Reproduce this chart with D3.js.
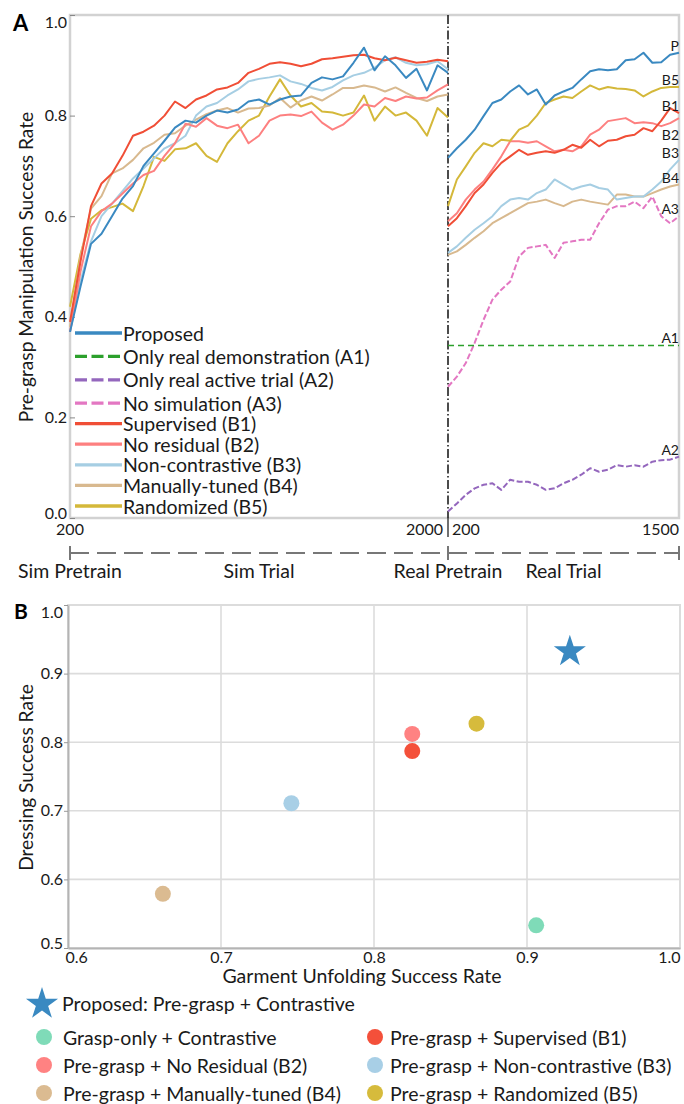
<!DOCTYPE html>
<html><head><meta charset="utf-8">
<script src="https://cdn.jsdelivr.net/npm/d3@7"></script>
<style>body{margin:0;background:#fff;} svg{display:block;font-family:Lato, "Open Sans", sans-serif;}</style>
</head><body><svg id="c" width="684" height="1104"></svg>
<script>
// ---------------- DATA ----------------
const simSteps = [200,250,300,350,400,450,500,550,600,650,700,750,800,850,900,950,1000,1050,1100,1150,1200,1250,1300,1350,1400,1450,1500,1550,1600,1650,1700,1750,1800,1850,1900,1950,2000];
const realSteps = [200,250,300,350,400,450,500,550,600,650,700,750,800,850,900,950,1000,1050,1100,1150,1200,1250,1300,1350,1400,1450,1500];

const simProposed = [0.37,0.46,0.545,0.565,0.60,0.635,0.66,0.70,0.725,0.75,0.776,0.79,0.786,0.80,0.81,0.806,0.812,0.828,0.832,0.822,0.832,0.838,0.84,0.865,0.876,0.872,0.878,0.905,0.935,0.89,0.918,0.90,0.875,0.893,0.85,0.90,0.885];
const simB1 = [0.39,0.51,0.62,0.665,0.685,0.72,0.76,0.768,0.78,0.80,0.828,0.815,0.832,0.84,0.852,0.856,0.865,0.885,0.893,0.903,0.906,0.903,0.898,0.903,0.912,0.914,0.917,0.92,0.921,0.914,0.91,0.915,0.91,0.905,0.907,0.911,0.908];
const simB2 = [0.37,0.49,0.58,0.61,0.625,0.645,0.665,0.682,0.69,0.72,0.745,0.784,0.778,0.795,0.78,0.775,0.782,0.745,0.76,0.79,0.80,0.802,0.799,0.808,0.786,0.772,0.782,0.80,0.822,0.818,0.835,0.829,0.838,0.834,0.836,0.85,0.862];
const simB3 = [0.37,0.47,0.55,0.60,0.625,0.65,0.675,0.695,0.715,0.735,0.745,0.76,0.80,0.818,0.825,0.84,0.852,0.868,0.873,0.876,0.88,0.868,0.863,0.855,0.85,0.857,0.87,0.88,0.885,0.895,0.91,0.916,0.905,0.90,0.902,0.908,0.892];
const simB4 = [0.38,0.52,0.615,0.64,0.685,0.695,0.712,0.735,0.746,0.762,0.765,0.78,0.792,0.803,0.81,0.815,0.806,0.814,0.815,0.82,0.835,0.816,0.83,0.838,0.83,0.842,0.855,0.855,0.86,0.856,0.848,0.856,0.845,0.835,0.829,0.838,0.842];
const simB5 = [0.42,0.525,0.595,0.612,0.618,0.625,0.61,0.66,0.718,0.71,0.733,0.735,0.745,0.72,0.708,0.745,0.769,0.79,0.80,0.838,0.872,0.84,0.818,0.825,0.808,0.806,0.80,0.806,0.84,0.79,0.818,0.80,0.806,0.79,0.76,0.815,0.796];

const realProposed = [0.716,0.735,0.752,0.772,0.799,0.825,0.832,0.848,0.86,0.842,0.852,0.822,0.84,0.848,0.855,0.872,0.888,0.892,0.89,0.892,0.91,0.912,0.925,0.905,0.906,0.921,0.925];
const realB5 = [0.62,0.673,0.699,0.726,0.745,0.739,0.752,0.75,0.772,0.78,0.80,0.825,0.832,0.838,0.835,0.848,0.86,0.852,0.857,0.854,0.853,0.85,0.838,0.848,0.855,0.857,0.857];
const realB1 = [0.58,0.596,0.62,0.646,0.663,0.686,0.706,0.719,0.732,0.722,0.726,0.729,0.726,0.732,0.742,0.736,0.752,0.739,0.75,0.752,0.759,0.762,0.775,0.769,0.79,0.815,0.805];
const realB2 = [0.59,0.606,0.633,0.653,0.669,0.693,0.719,0.749,0.749,0.746,0.749,0.739,0.729,0.732,0.729,0.739,0.762,0.772,0.789,0.792,0.795,0.785,0.787,0.785,0.779,0.785,0.795];
const realB3 = [0.527,0.54,0.557,0.573,0.586,0.60,0.62,0.633,0.636,0.633,0.646,0.653,0.673,0.663,0.653,0.659,0.663,0.656,0.653,0.633,0.636,0.639,0.639,0.653,0.669,0.693,0.712];
const realB4 = [0.523,0.53,0.543,0.557,0.57,0.586,0.596,0.606,0.616,0.626,0.629,0.633,0.626,0.62,0.629,0.633,0.629,0.626,0.623,0.643,0.643,0.639,0.639,0.646,0.653,0.659,0.663];
const realA3 = [0.261,0.281,0.308,0.348,0.394,0.434,0.454,0.47,0.52,0.537,0.54,0.543,0.517,0.547,0.55,0.553,0.553,0.586,0.613,0.62,0.62,0.629,0.616,0.639,0.60,0.586,0.60];
const realA1 = [0.343,0.343];
const realA1Steps = [200,1500];
const realA2 = [0.013,0.029,0.046,0.059,0.066,0.069,0.056,0.076,0.072,0.072,0.066,0.056,0.059,0.069,0.076,0.086,0.099,0.092,0.096,0.105,0.102,0.105,0.102,0.112,0.115,0.116,0.122];

const legendNamesA = ["Proposed","Only real demonstration (A1)","Only real active trial (A2)","No simulation (A3)","Supervised (B1)","No residual (B2)","Non-contrastive (B3)","Manually-tuned (B4)","Randomized (B5)"];
const endLabels = ["P","B5","B1","B2","B3","B4","A3","A1","A2"];
const yTicksA = [0,0.2,0.4,0.6,0.8,1.0];
const simTickLabels = [200,2000];
const realTickLabels = [200,1500];
const phaseLabels = ["Sim Pretrain","Sim Trial","Real Pretrain","Real Trial"];

const scatterNames = ["Proposed: Pre-grasp + Contrastive","Grasp-only + Contrastive","Pre-grasp + Supervised (B1)","Pre-grasp + No Residual (B2)","Pre-grasp + Non-contrastive (B3)","Pre-grasp + Manually-tuned (B4)","Pre-grasp + Randomized (B5)"];
const unfoldingRate = [0.928,0.906,0.825,0.825,0.746,0.662,0.867];
const dressingRate  = [0.935,0.533,0.787,0.812,0.711,0.579,0.827];
const xTicksB = [0.6,0.7,0.8,0.9,1.0];
const yTicksB = [0.5,0.6,0.7,0.8,0.9,1.0];

// ---------------- STYLE ----------------
const C = {P:"#3a89c1",A1:"#2ca02c",A2:"#9467bd",A3:"#e377c2",B1:"#f04e36",B2:"#fd8080",B3:"#a6cee3",B4:"#d8b98f",B5:"#d4b83a",G:"#7fdbb8"};
const fmt = d3.format(".1f");
const svg = d3.select("#c");
const txt = "#1a1a1a";
const FS_LEG = 19.5, FS_TITLE = 19.2, FS_TICK = 16;

// ---------------- PANEL A ----------------
const A = {l:70, r:679, t:15, b:518, split:448};
const xSim = d3.scaleLinear().domain([200,2000]).range([A.l, A.split]);
const xReal = d3.scaleLinear().domain([200,1500]).range([A.split, A.r]);
const yA = d3.scaleLinear().domain([0,1]).range([A.b, A.t]);

svg.append("rect").attr("x",A.l).attr("y",A.t).attr("width",A.r-A.l).attr("height",A.b-A.t)
  .attr("fill","none").attr("stroke","#d2d2d2").attr("stroke-width",2.5);

const gyA = svg.append("g").attr("transform",`translate(${A.l},0)`)
  .call(d3.axisLeft(yA).tickValues(yTicksA).tickFormat(fmt).tickSize(-5).tickPadding(3));
gyA.select(".domain").remove();
gyA.selectAll(".tick line").attr("stroke","#888").attr("stroke-width",1);
gyA.selectAll(".tick text").attr("font-size",FS_TICK).attr("fill",txt).attr("font-family","Lato")
  .attr("dy", d => d===1 ? "0.75em" : (d===0 ? "0em" : "0.32em"));

// vertical separator
svg.append("line").attr("x1",A.split).attr("x2",A.split).attr("y1",A.t).attr("y2",A.b)
  .attr("stroke","#111").attr("stroke-width",1.5).attr("stroke-dasharray","9,2.5,1.5,2.5");
svg.append("line").attr("x1",A.split).attr("x2",A.split).attr("y1",A.b).attr("y2",A.b+19)
  .attr("stroke","#111").attr("stroke-width",1.2);

const lineSim = d3.line().x((d,i)=>xSim(simSteps[i])).y(d=>yA(d));
const lineReal = d3.line().x((d,i)=>xReal(realSteps[i])).y(d=>yA(d));

const simSeries = [[simB5,C.B5],[simB4,C.B4],[simB3,C.B3],[simB2,C.B2],[simB1,C.B1],[simProposed,C.P]];
simSeries.forEach(([v,c])=>{
  svg.append("path").attr("d",lineSim(v)).attr("fill","none").attr("stroke",c).attr("stroke-width",2).attr("stroke-linejoin","round");
});
const realSeries = [[realB4,C.B4,null],[realB3,C.B3,null],[realB2,C.B2,null],[realB1,C.B1,null],[realB5,C.B5,null],[realProposed,C.P,null],[realA3,C.A3,"6,2.5"],[realA2,C.A2,"6,2.5"]];
realSeries.forEach(([v,c,dash])=>{
  svg.append("path").attr("d",lineReal(v)).attr("fill","none").attr("stroke",c).attr("stroke-width",2)
    .attr("stroke-linejoin","round").attr("stroke-dasharray",dash);
});
svg.append("path").attr("d", d3.line().x((d,i)=>xReal(realA1Steps[i])).y(d=>yA(d))(realA1))
  .attr("fill","none").attr("stroke",C.A1).attr("stroke-width",1.6).attr("stroke-dasharray","6,4");

// end labels (baseline at series end, nudged below when crowded)
const endVals = [realProposed, realB5, realB1, realB2, realB3, realB4, realA3, realA1, realA2].map(a=>a[a.length-1]);
let prev = -1e9;
endVals.forEach((v,i)=>{
  let y = yA(v) - 2;
  if (y < prev + 17) y = prev + 29;
  prev = y;
  svg.append("text").attr("x",A.r).attr("y",y).attr("text-anchor","end").attr("font-size",14).attr("fill",txt).text(endLabels[i]);
});

// x tick labels
const xtY = 535;
svg.append("text").attr("x",xSim(simTickLabels[0])).attr("y",xtY).attr("text-anchor","middle").attr("font-size",FS_TICK).attr("fill",txt).text(simTickLabels[0]);
svg.append("text").attr("x",xSim(simTickLabels[1])-5).attr("y",xtY).attr("text-anchor","end").attr("font-size",FS_TICK).attr("fill",txt).text(simTickLabels[1]);
svg.append("text").attr("x",xReal(realTickLabels[0])+4).attr("y",xtY).attr("text-anchor","start").attr("font-size",FS_TICK).attr("fill",txt).text(realTickLabels[0]);
svg.append("text").attr("x",xReal(realTickLabels[1])).attr("y",xtY).attr("text-anchor","end").attr("font-size",FS_TICK).attr("fill",txt).text(realTickLabels[1]);

// y title
svg.append("text").attr("transform","translate(25,267) rotate(-90)").attr("text-anchor","middle")
  .attr("dominant-baseline","central").attr("font-size",FS_TITLE).attr("fill",txt).text("Pre-grasp Manipulation Success Rate");
svg.append("text").attr("x",13).attr("y",31).attr("font-size",22).attr("font-weight","bold").attr("fill","#000").text("A");

// legend A
const legStyle = [[C.P,null],[C.A1,"12,4.5"],[C.A2,"12,4.5"],[C.A3,"12,4.5"],[C.B1,null],[C.B2,null],[C.B3,null],[C.B4,null],[C.B5,null]];
const legRowY = i => i < 4 ? 333 + i*23.4 : 403 + (i-3)*20.6;
legendNamesA.forEach((n,i)=>{
  const y = legRowY(i);
  svg.append("line").attr("x1",75).attr("x2",122).attr("y1",y).attr("y2",y).attr("stroke",legStyle[i][0])
    .attr("stroke-width",3.3).attr("stroke-dasharray",legStyle[i][1]);
  svg.append("text").attr("x",123).attr("y",y).attr("dominant-baseline","central").attr("font-size",FS_LEG).attr("fill",txt).text(n);
});

// phase timeline
const tlY = 553;
svg.append("line").attr("x1",A.l).attr("x2",A.r).attr("y1",tlY).attr("y2",tlY).attr("stroke","#777").attr("stroke-width",2).attr("stroke-dasharray","19,8");
[A.l, A.split, A.r].forEach(x=>{
  svg.append("line").attr("x1",x).attr("x2",x).attr("y1",tlY-7).attr("y2",tlY+7).attr("stroke","#777").attr("stroke-width",2);
});
const phaseX = [A.l, (A.l+A.split)/2, A.split, (A.split+A.r)/2];
phaseLabels.forEach((p,i)=>{
  svg.append("text").attr("x",phaseX[i]).attr("y",578).attr("text-anchor","middle").attr("font-size",FS_LEG).attr("fill",txt).text(p);
});

// ---------------- PANEL B ----------------
const B = {l:68, r:680, t:605, b:948};
const xB = d3.scaleLinear().domain([0.6,1.0]).range([B.l,B.r]);
const yB = d3.scaleLinear().domain([0.5,1.0]).range([B.b,B.t]);

const grid = svg.append("g");
xTicksB.slice(1,-1).forEach(v=>grid.append("line").attr("x1",xB(v)).attr("x2",xB(v)).attr("y1",B.t).attr("y2",B.b).attr("stroke","#dcdcdc").attr("stroke-width",1.6));
yTicksB.slice(1,-1).forEach(v=>grid.append("line").attr("x1",B.l).attr("x2",B.r).attr("y1",yB(v)).attr("y2",yB(v)).attr("stroke","#dcdcdc").attr("stroke-width",1.6));
svg.append("rect").attr("x",B.l).attr("y",B.t).attr("width",B.r-B.l).attr("height",B.b-B.t).attr("fill","none").attr("stroke","#dcdcdc").attr("stroke-width",2);

const gyB = svg.append("g").attr("transform",`translate(${B.l},0)`)
  .call(d3.axisLeft(yB).tickValues(yTicksB).tickFormat(fmt).tickSize(4).tickPadding(1).tickSizeOuter(0));
gyB.select(".domain").attr("stroke","#b4b4b4").attr("stroke-width",2);
gyB.selectAll(".tick line").attr("stroke","#999");
gyB.selectAll(".tick text").attr("font-size",FS_TICK).attr("fill",txt).attr("font-family","Lato")
  .attr("dy", d => d===1 ? "0.8em" : (d===0.5 ? "0em" : "0.32em"));

const gxB = svg.append("g").attr("transform",`translate(0,${B.b})`)
  .call(d3.axisBottom(xB).tickValues(xTicksB).tickFormat(fmt).tickSize(0).tickPadding(3.5).tickSizeOuter(0));
gxB.select(".domain").attr("stroke","#b4b4b4").attr("stroke-width",2);
gxB.selectAll(".tick text").attr("font-size",FS_TICK).attr("fill",txt).attr("font-family","Lato")
  .attr("text-anchor", d => d===0.6 ? "start" : (d===1.0 ? "end" : "middle"))
  .attr("dx", d => d===0.6 ? "-3" : 0);

svg.append("text").attr("x",(B.l+B.r)/2 - 12).attr("y",983).attr("text-anchor","middle").attr("font-size",19.5).attr("fill",txt).text("Garment Unfolding Success Rate");
svg.append("text").attr("transform",`translate(25,${(B.t+B.b)/2+1}) rotate(-90)`).attr("text-anchor","middle")
  .attr("dominant-baseline","central").attr("font-size",FS_TITLE).attr("fill",txt).text("Dressing Success Rate");
svg.append("text").attr("x",14).attr("y",619).attr("font-size",21).attr("font-weight","bold").attr("fill","#000").text("B");

const scatterColors = [C.P, C.G, "#f4503a", "#ff8282", "#a8cfe6", "#dbbb91", "#d6bb3c"];
const drawOrder = [1,3,2,4,5,6];
drawOrder.forEach(i=>{
  svg.append("circle").attr("cx",xB(unfoldingRate[i])).attr("cy",yB(dressingRate[i])).attr("r",8).attr("fill",scatterColors[i]);
});
const star = d3.symbol().type(d3.symbolStar).size(320);
svg.append("path").attr("d",star()).attr("transform",`translate(${xB(unfoldingRate[0])},${yB(dressingRate[0])+2})`).attr("fill",scatterColors[0]);

// legend B
svg.append("path").attr("d",star()).attr("transform","translate(42,1004)").attr("fill",scatterColors[0]);
svg.append("text").attr("x",62).attr("y",1003).attr("dominant-baseline","central").attr("font-size",FS_LEG).attr("fill",txt).text(scatterNames[0]);
const legBPos = [[44,63,1037],[375,390,1037],[44,63,1065],[375,390,1065],[44,63,1093],[375,390,1093]];
for (let k=1;k<scatterNames.length;k++){
  const [cx,tx,y] = legBPos[k-1];
  svg.append("circle").attr("cx",cx).attr("cy",y).attr("r",8).attr("fill",scatterColors[k]);
  svg.append("text").attr("x",tx).attr("y",y).attr("dominant-baseline","central").attr("font-size",FS_LEG).attr("fill",txt).text(scatterNames[k]);
}
</script></body></html>
